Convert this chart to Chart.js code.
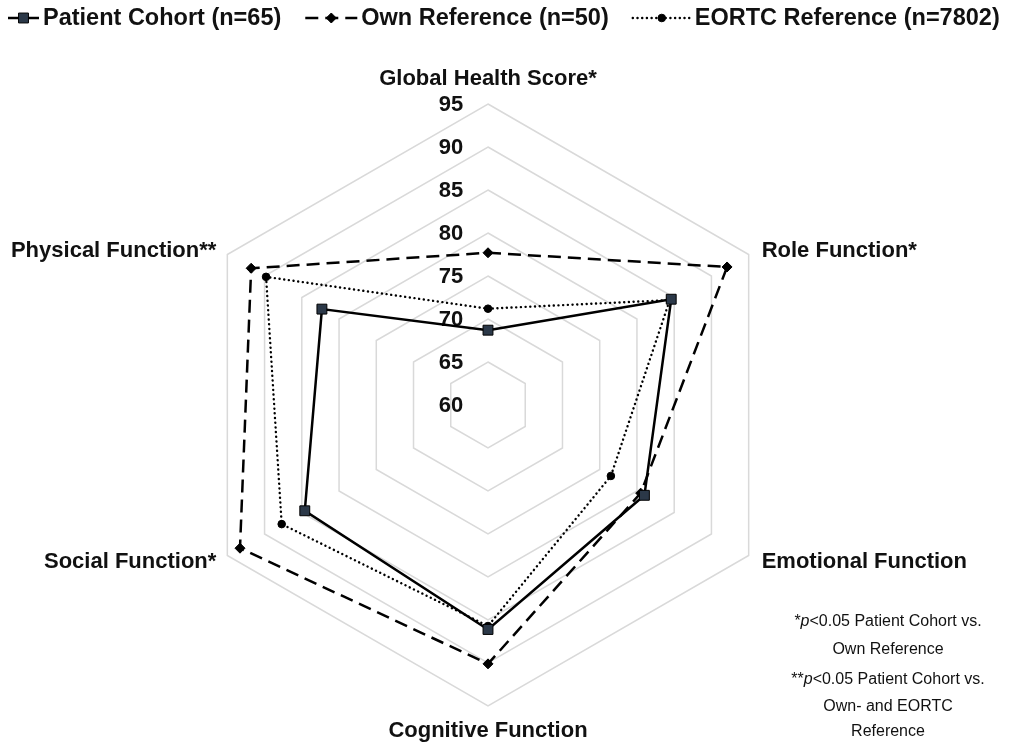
<!DOCTYPE html>
<html>
<head>
<meta charset="utf-8">
<script src="https://cdn.jsdelivr.net/npm/chart.js@4.4.1/dist/chart.umd.min.js"></script>
<style>
html,body{margin:0;padding:0;background:#fff;}
#wrap{width:1019px;height:744px;position:relative;}
</style>
</head>
<body>
<div id="wrap"><canvas id="c"></canvas></div>
<script>
// ---- data ----
const categories = ['Global Health Score*', 'Role Function*', 'Emotional Function', 'Cognitive Function', 'Social Function*', 'Physical Function**'];
const patientCohort = [68.7, 84.6, 81.0, 86.1, 84.6, 82.3];
const ownReference = [77.7, 92.1, 80.5, 90.1, 93.3, 91.8];
const eortcReference = [71.2, 84.4, 76.5, 85.7, 87.7, 89.8];
const seriesLabels = ['Patient Cohort (n=65)', 'Own Reference (n=50)', 'EORTC Reference (n=7802)'];
const tickValues = [60, 65, 70, 75, 80, 85, 90, 95];
const footnoteLines = [
  [['*', false], ['p', true], ['<0.05 Patient Cohort vs.', false]],
  [['Own Reference', false]],
  [['**', false], ['p', true], ['<0.05 Patient Cohort vs.', false]],
  [['Own- and EORTC', false]],
  [['Reference', false]]
];

const FONT = '"Liberation Sans", Arial, Helvetica, sans-serif';

const datasets = [
  {
    label: seriesLabels[0], data: patientCohort,
    borderColor: '#000', borderWidth: 2.5, borderDash: [],
    pointStyle: 'rect', pointRadius: 7, pointBackgroundColor: '#2b3848', pointBorderColor: '#000', pointBorderWidth: 1,
    fill: false, tension: 0
  },
  {
    label: seriesLabels[1], data: ownReference,
    borderColor: '#000', borderWidth: 2.5, borderDash: [13, 7],
    pointStyle: 'rectRot', pointRadius: 5, pointBackgroundColor: '#000', pointBorderColor: '#000', pointBorderWidth: 1,
    fill: false, tension: 0
  },
  {
    label: seriesLabels[2], data: eortcReference,
    borderColor: '#000', borderWidth: 2.4, borderDash: [0.1, 4.6], borderCapStyle: 'round',
    pointStyle: 'circle', pointRadius: 3.8, pointBackgroundColor: '#000', pointBorderColor: '#000', pointBorderWidth: 1,
    fill: false, tension: 0
  }
];

function drawMarker(ctx, ds, x, y) {
  const r = ds.pointRadius;
  ctx.save();
  ctx.setLineDash([]);
  ctx.fillStyle = ds.pointBackgroundColor;
  ctx.strokeStyle = ds.pointBorderColor;
  ctx.lineWidth = ds.pointBorderWidth;
  ctx.beginPath();
  if (ds.pointStyle === 'rect') {
    const h = r * Math.SQRT1_2;
    ctx.rect(x - h, y - h, 2 * h, 2 * h);
  } else if (ds.pointStyle === 'rectRot') {
    ctx.moveTo(x, y - r); ctx.lineTo(x + r, y); ctx.lineTo(x, y + r); ctx.lineTo(x - r, y); ctx.closePath();
  } else {
    ctx.arc(x, y, r, 0, Math.PI * 2);
  }
  ctx.fill();
  ctx.stroke();
  ctx.restore();
}

const customDraw = {
  id: 'customDraw',
  beforeDatasetsDraw(chart) {
    const ctx = chart.ctx, s = chart.scales.r;
    ctx.save();
    ctx.font = 'bold 22px ' + FONT;
    ctx.fillStyle = '#111';
    ctx.textAlign = 'center';
    ctx.textBaseline = 'middle';
    tickValues.forEach(v => {
      const d = s.getDistanceFromCenterForValue(v);
      ctx.fillText(String(v), s.xCenter - 37, s.yCenter - d + 1);
    });
    ctx.restore();
  },
  afterDraw(chart) {
    const ctx = chart.ctx, s = chart.scales.r;
    ctx.save();
    // point labels
    ctx.font = 'bold 22px ' + FONT;
    ctx.fillStyle = '#111';
    ctx.textBaseline = 'middle';
    const offs = [
      {dx: 0, dy: -25, a: 'center'},
      {dx: 13, dy: -4, a: 'left'},
      {dx: 13, dy: 6, a: 'left'},
      {dx: 0, dy: 25, a: 'center'},
      {dx: -11, dy: 6, a: 'right'},
      {dx: -11, dy: -4, a: 'right'}
    ];
    categories.forEach((lab, i) => {
      const p = s.getPointPosition(i, s.drawingArea);
      const o = offs[i];
      ctx.textAlign = o.a;
      ctx.fillText(lab, p.x + o.dx, p.y + o.dy);
    });

    // legend
    ctx.font = 'bold 23.5px ' + FONT;
    const symW = [31, 52, 58];
    const gapT = 4, gapI = 24;
    const ly = 18;
    let x = 8;
    chart.data.datasets.forEach((ds, i) => {
      ctx.save();
      ctx.strokeStyle = ds.borderColor;
      ctx.lineWidth = ds.borderWidth;
      ctx.lineCap = ds.borderCapStyle || 'butt';
      ctx.setLineDash(ds.borderDash || []);
      ctx.beginPath();
      ctx.moveTo(x, ly);
      ctx.lineTo(x + symW[i], ly);
      ctx.stroke();
      ctx.restore();
      drawMarker(ctx, ds, x + symW[i] / 2, ly);
      x += symW[i] + gapT;
      ctx.fillStyle = '#111';
      ctx.textAlign = 'left';
      ctx.fillText(ds.label, x, ly + 1);
      x += ctx.measureText(ds.label).width + gapI;
    });

    // footnotes
    const fy = [622, 650, 680, 707, 732];
    const cx = 888;
    footnoteLines.forEach((segs, li) => {
      let w = 0;
      const ws = segs.map(([t, it]) => {
        ctx.font = (it ? 'italic ' : '') + '16px ' + FONT;
        const m = ctx.measureText(t).width;
        w += m;
        return m;
      });
      let sx = cx - w / 2;
      segs.forEach(([t, it], k) => {
        ctx.font = (it ? 'italic ' : '') + '16px ' + FONT;
        ctx.textAlign = 'left';
        ctx.fillStyle = '#111';
        ctx.fillText(t, sx, fy[li]);
        sx += ws[k];
      });
    });
    ctx.restore();
  }
};

new Chart(document.getElementById('c'), {
  type: 'radar',
  data: { labels: categories, datasets: datasets },
  options: {
    responsive: true,
    maintainAspectRatio: false,
    animation: false,
    devicePixelRatio: 1,
    layout: { padding: { left: 187, right: 230, top: 104, bottom: 38 } },
    plugins: { legend: { display: false }, tooltip: { enabled: false } },
    elements: { line: { borderJoinStyle: 'miter' } },
    scales: {
      r: {
        min: 60, max: 95,
        ticks: { stepSize: 5, display: false },
        grid: { color: '#d9d9d9', lineWidth: 1.5, circular: false },
        angleLines: { display: false },
        pointLabels: { display: false }
      }
    }
  },
  plugins: [customDraw]
});
</script>
</body>
</html>
